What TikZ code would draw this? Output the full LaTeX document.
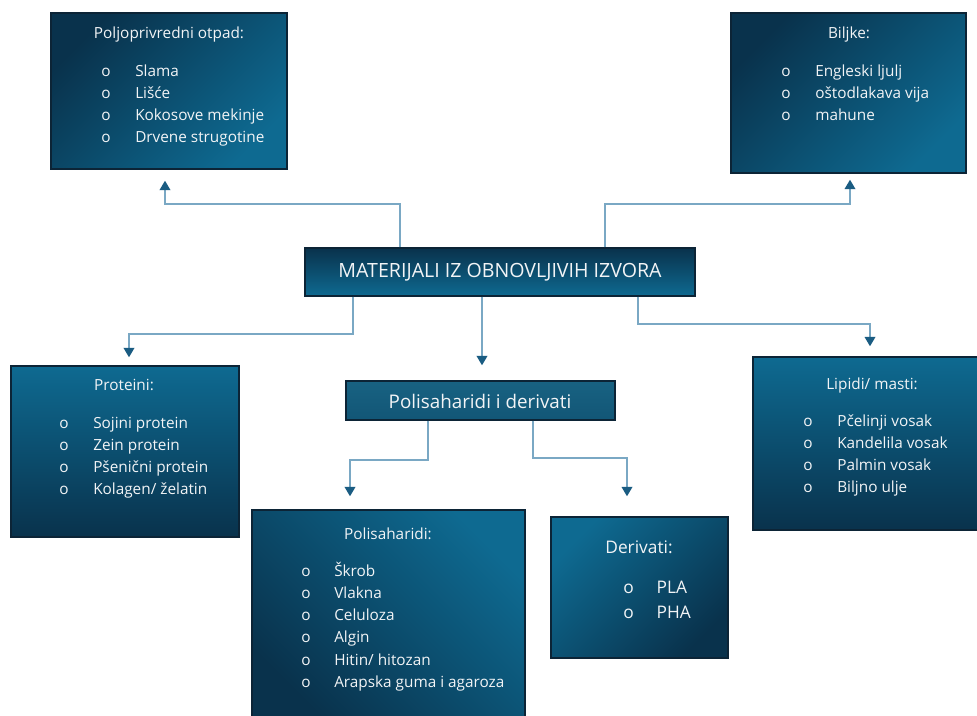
\documentclass[tikz,border=0pt]{standalone}
\usepackage{fontspec}
\setmainfont{Open Sans}
\usetikzlibrary{arrows.meta}
\definecolor{dk}{RGB}{9,50,76}
\definecolor{lt}{RGB}{14,106,145}
\definecolor{pdA}{RGB}{24,98,130}
\definecolor{pdB}{RGB}{18,86,118}
\definecolor{bord}{RGB}{12,36,54}
\definecolor{linec}{RGB}{122,168,196}
\definecolor{arrowc}{RGB}{26,92,130}
\definecolor{textc}{RGB}{242,244,246}
\tikzset{
  box/.style={draw=bord, line width=1.1pt, inner sep=0pt, rectangle},
  gTL/.style={top color=dk, bottom color=lt, shading angle=45},
  gTLrev/.style={top color=lt, bottom color=dk, shading angle=45},
  gTR/.style={top color=lt, bottom color=dk, shading angle=-45},
  gDown/.style={top color=lt, bottom color=dk},
  gUp/.style={top color=dk, bottom color=lt},
  txt/.style={text=textc, inner sep=0pt, font=\fontsize{11.5}{16.7}\selectfont},
  bigtxt/.style={text=textc, inner sep=0pt, font=\fontsize{13}{18.75}\selectfont},
  conn/.style={draw=linec, line width=1pt, -{Triangle[width=8pt,length=7pt,color=arrowc]}},
}
\begin{document}
\begin{tikzpicture}[x=0.75pt,y=-0.75pt]
\useasboundingbox[fill=white] (0,0) rectangle (977,715);

% boxes
\node[box, gTL, minimum width=236*0.75pt, minimum height=156*0.75pt] (polj) at (169,91) {};
\node[box, gTL, minimum width=235*0.75pt, minimum height=160*0.75pt] (bil) at (848.5,93) {};
\node[box, gUp, minimum width=390*0.75pt, minimum height=48*0.75pt] (mat) at (500,272) {};
\node[box, gDown, minimum width=228*0.75pt, minimum height=171*0.75pt] (prot) at (125,451.5) {};
\node[box, top color=pdA, bottom color=pdB, minimum width=269*0.75pt, minimum height=39*0.75pt] (pd) at (480.5,400.5) {};
\node[box, gTR, minimum width=273*0.75pt, minimum height=210*0.75pt] (poli) at (388.5,615) {};
\node[box, gTLrev, minimum width=177*0.75pt, minimum height=141*0.75pt] (der) at (639.5,587.5) {};
\node[box, gDown, minimum width=229*0.75pt, minimum height=173*0.75pt] (lip) at (867.5,443.5) {};

% main titles
\node[text=textc, inner sep=0pt, anchor=base, font=\fontsize{14.7}{18}\selectfont] (matt) at (500,277) {MATERIJALI IZ OBNOVLJIVIH IZVORA};
\node[text=textc, inner sep=0pt, anchor=base, font=\fontsize{14.1}{18}\selectfont] (pdt) at (480,408) {Polisaharidi i derivati};

% box titles
\node[txt, anchor=base] (poljt) at (169,38) {Poljoprivredni otpad:};
\node[txt, anchor=base] (bilt) at (849,38) {Biljke:};
\node[txt, anchor=base] (prott) at (124,390) {Proteini:};
\node[txt, anchor=base] (lipt) at (872,389) {Lipidi/ masti:};
\node[txt, anchor=base] (polit) at (388,539) {Polisaharidi:};
\node[bigtxt, anchor=base] (dert) at (639,553) {Derivati:};

% lists
\node[txt, anchor=base west] (poljl) at (101,76) {\begin{tabular}[t]{@{}p{25.5pt}@{}l@{}}o&Slama\\o&Lišće\\o&Kokosove mekinje\\o&Drvene strugotine\end{tabular}};
\node[txt, anchor=base west] (bill) at (781,76) {\begin{tabular}[t]{@{}p{25.5pt}@{}l@{}}o&Engleski ljulj\\o&oštodlakava vija\\o&mahune\end{tabular}};
\node[txt, anchor=base west] (protl) at (59,428) {\begin{tabular}[t]{@{}p{25.5pt}@{}l@{}}o&Sojini protein\\o&Zein protein\\o&Pšenični protein\\o&Kolagen/ želatin\end{tabular}};
\node[txt, anchor=base west] (lipl) at (803,426) {\begin{tabular}[t]{@{}p{25.5pt}@{}l@{}}o&Pčelinji vosak\\o&Kandelila vosak\\o&Palmin vosak\\o&Biljno ulje\end{tabular}};
\node[txt, anchor=base west] (polil) at (301,576) {\begin{tabular}[t]{@{}p{24.75pt}@{}l@{}}o&Škrob\\o&Vlakna\\o&Celuloza\\o&Algin\\o&Hitin/ hitozan\\o&Arapska guma i agaroza\end{tabular}};
\node[bigtxt, anchor=base west] (derl) at (623,593) {\begin{tabular}[t]{@{}p{25pt}@{}l@{}}o&PLA\\o&PHA\end{tabular}};

% connectors
\draw[conn, shorten >=8.25pt] (mat.north -| 400,0) -- (400,204) -| (polj.south -| 165,0);
\draw[conn, shorten >=4.5pt] (mat.north -| 605,0) -- (605,204) -| (bil.south -| 850,0);
\draw[conn, shorten >=6pt] (mat.south -| 353,0) -- (353,334) -| (prot.north -| 129,0);
\draw[conn, shorten >=11.25pt] (mat.south -| 482,0) -- (pd.north -| 482,0);
\draw[conn, shorten >=7.5pt] (mat.south -| 638,0) -- (638,324) -| (lip.north -| 870,0);
\draw[conn, shorten >=9.75pt] (pd.south -| 428,0) -- (428,460) -| (poli.north -| 350,0);
\draw[conn, shorten >=15pt] (pd.south -| 533,0) -- (533,458) -| (der.north -| 627,0);
\end{tikzpicture}
\end{document}
